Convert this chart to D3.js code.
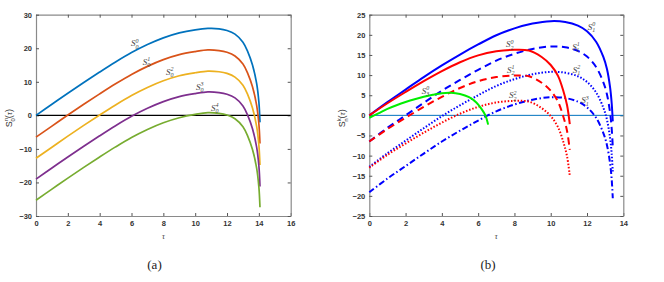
<!DOCTYPE html>
<html>
<head>
<meta charset="utf-8">
<script src="https://cdn.jsdelivr.net/npm/d3@7"></script>
<style>
  body { margin: 0; background: #fff; }
  svg { display: block; }
  .tick text { font-family: 'Liberation Sans', Arial, sans-serif; font-size: 7.5px; font-weight: bold; fill: #333; }
</style>
</head>
<body>
<div id="chart"></div>
<script>
'use strict'

// ---- panel (a): S_0^n(tau), n = 0..4 ----
const tauA = [0, 1, 2, 3, 4, 5, 6, 7, 8, 9, 10, 10.8, 11.5, 12, 12.5, 13, 13.3, 13.6, 13.86, 14.0, 14.07]
const s00 = [0, 3.3, 6.6, 9.8, 12.9, 15.9, 18.7, 21.1, 23.1, 24.6, 25.5, 25.9, 25.8, 25.3, 24.2, 21.8, 19, 15, 9.5, 4, -2.1]
const s01 = [-6.5, -3.2, 0.1, 3.3, 6.4, 9.4, 12.2, 14.6, 16.6, 18.1, 19.0, 19.5, 19.3, 18.8, 17.7, 15.3, 12.5, 8.5, 3, -2.5, -8.4]
const s02 = [-12.8, -9.5, -6.2, -3, 0.1, 3.1, 5.9, 8.3, 10.3, 11.8, 12.7, 13.2, 13, 12.5, 11.4, 9, 6.2, 2.2, -3.3, -8.8, -14.8]
const s03 = [-19, -15.7, -12.4, -9.2, -6.1, -3.1, -0.3, 2.1, 4.1, 5.6, 6.5, 7, 6.8, 6.3, 5.2, 2.8, 0, -4, -9.5, -15, -21.2]
const s04 = [-25.3, -22, -18.7, -15.5, -12.4, -9.4, -6.6, -4.2, -2.2, -0.7, 0.3, 0.8, 0.6, 0.1, -1, -3.4, -6.2, -10.2, -15.7, -21.3, -27.4]
const xTicksA = [0, 2, 4, 6, 8, 10, 12, 14, 16]
const yTicksA = [-30, -20, -10, 0, 10, 20, 30]

// ---- panel (b): S_n^k(tau) ----
const tauB = [0, 1, 2, 3, 4, 5, 6, 7, 8, 9, 10, 10.8, 11.5, 12, 12.5, 12.9, 13.1, 13.27, 13.36, 13.42]
const s10 = [0, 3.3, 6.4, 9.5, 12.4, 15.1, 17.6, 19.9, 21.6, 22.8, 23.4, 23.2, 22.3, 20.9, 18.3, 14.5, 11.5, 7, 3, -1.5]
const s11 = [-6.5, -3.1, 0, 3.1, 6.1, 8.8, 11.3, 13.6, 15.3, 16.5, 17.1, 16.9, 16, 14.6, 12, 8.2, 5.2, 0.7, -3.3, -7.8]
const s12 = [-12.8, -9.4, -6.3, -3.2, -0.2, 2.5, 5, 7.3, 9, 10.2, 10.8, 10.6, 9.7, 8.3, 5.7, 1.9, -1.1, -5.6, -9.6, -14.1]
const s13 = [-19.1, -15.7, -12.6, -9.5, -6.5, -3.8, -1.3, 1, 2.7, 3.9, 4.5, 4.3, 3.4, 2, -0.6, -4.4, -7.4, -11.9, -15.9, -20.6]
const tauR = [0, 1, 2, 3, 4, 5, 6, 7, 8, 8.8, 9.5, 10, 10.4, 10.7, 10.9, 11.05]
const s20 = [0, 3.0, 5.8, 8.5, 11, 13.2, 14.9, 15.9, 16.3, 16.1, 14.5, 12.5, 9.8, 6, 2.5, -2.2]
const s21 = [-6.5, -3.4, -0.6, 2.1, 4.6, 6.8, 8.5, 9.5, 9.9, 9.7, 8.1, 6.1, 3.4, -0.4, -3.9, -8.6]
const s22 = [-13, -9.8, -7, -4.3, -1.8, 0.4, 2.1, 3.2, 3.6, 3.4, 1.8, -0.2, -2.9, -6.7, -10.2, -15]
const tauG = [0, 0.5, 1, 1.5, 2, 2.5, 3, 3.5, 4, 4.5, 5, 5.5, 5.9, 6.2, 6.4, 6.55]
const s30 = [-0.6, 0.5, 1.6, 2.5, 3.3, 4, 4.6, 5.1, 5.5, 5.6, 5.3, 4.5, 3.2, 1.5, 0, -2.3]
const xTicksB = [0, 2, 4, 6, 8, 10, 12, 14]
const yTicksB = [-25, -20, -15, -10, -5, 0, 5, 10, 15, 20, 25]

// label anchors (tau, value) and their sub/superscripts
const labelsA = [
  { sub: '0', sup: '0', at: [6.22, 21.5] },
  { sub: '0', sup: '1', at: [6.95, 16] },
  { sub: '0', sup: '2', at: [8.42, 13] },
  { sub: '0', sup: '3', at: [10.3, 8.5] },
  { sub: '0', sup: '4', at: [11.24, 2.2] }
]
const labelsB = [
  { sub: '1', sup: '0', at: [12.26, 22] },
  { sub: '1', sup: '1', at: [11.4, 17] },
  { sub: '1', sup: '2', at: [11.43, 11.3] },
  { sub: '1', sup: '3', at: [11.9, 3.8] },
  { sub: '2', sup: '0', at: [7.76, 17.6] },
  { sub: '2', sup: '1', at: [7.81, 11.3] },
  { sub: '2', sup: '2', at: [7.92, 5] },
  { sub: '3', sup: '0', at: [3.11, 6.1] }
]

const W = 664, H = 282
const svg = d3.select('#chart').append('svg')
  .attr('width', W).attr('height', H)

// draws one framed MATLAB-style panel
function drawPanel(p) {
  const x = d3.scaleLinear().domain(p.xDomain).range([p.left, p.right])
  const y = d3.scaleLinear().domain(p.yDomain).range([p.bottom, p.top])
  const g = svg.append('g')

  // axes with inward ticks on all four sides
  const axes = [
    [d3.axisBottom(x).tickValues(p.xTicks).tickPadding(5), `translate(0,${p.bottom})`],
    [d3.axisTop(x).tickValues(p.xTicks).tickFormat(''), `translate(0,${p.top})`],
    [d3.axisLeft(y).tickValues(p.yTicks).tickPadding(4), `translate(${p.left},0)`],
    [d3.axisRight(y).tickValues(p.yTicks).tickFormat(''), `translate(${p.right},0)`]
  ]
  axes.forEach(([ax, tr]) => {
    const a = g.append('g').attr('transform', tr)
      .call(ax.tickSizeInner(-3).tickSizeOuter(0))
    a.select('.domain').attr('stroke', '#8a8a8a').attr('stroke-width', 1.2)
    a.selectAll('.tick line').attr('stroke', '#555')
  })

  // zero reference line
  g.append('line')
    .attr('x1', p.left).attr('x2', p.right)
    .attr('y1', y(0)).attr('y2', y(0))
    .attr('stroke', p.zeroColor).attr('stroke-width', p.zeroWidth)

  const line = d3.line()
    .x(d => x(d[0]))
    .y(d => y(d[1]))
    .curve(d3.curveCatmullRom.alpha(0.5))

  p.series.forEach(s => {
    g.append('path')
      .datum(d3.zip(s.tau, s.values))
      .attr('fill', 'none')
      .attr('stroke', s.color)
      .attr('stroke-width', p.lineWidth)
      .attr('stroke-dasharray', s.dash || null)
      .attr('d', line)
  })

  // curve labels S_sub^sup
  p.labels.forEach(l => {
    const t = g.append('text')
      .attr('x', x(l.at[0]) - 4).attr('y', y(l.at[1]) + 3)
      .attr('font-family', 'Liberation Serif, serif')
      .attr('font-style', 'italic')
      .attr('font-size', 9)
      .attr('fill', '#444')
    t.append('tspan').text('S')
    t.append('tspan').attr('font-size', 6).attr('dy', -3.5).text(l.sup)
    t.append('tspan').attr('font-size', 6).attr('dx', -3).attr('dy', 6).text(l.sub)
  })

  // x label
  g.append('text')
    .attr('x', (p.left + p.right) / 2).attr('y', 239)
    .attr('text-anchor', 'middle')
    .attr('font-family', 'Liberation Serif, serif')
    .attr('font-style', 'italic').attr('font-size', 8).attr('fill', '#444')
    .text('τ')

  // y label, rotated
  const yl = g.append('text')
    .attr('transform', `translate(${p.yLabelX},${y(0) + 12}) rotate(-90)`)
    .attr('font-family', 'Liberation Sans, Arial, sans-serif')
    .attr('font-size', 9).attr('fill', '#333')
  yl.append('tspan').text('S')
  yl.append('tspan').attr('font-size', 6).attr('dy', -4).text(p.yLabelSup)
  yl.append('tspan').attr('font-size', 6).attr('dx', -3.5).attr('dy', 7).text(p.yLabelSub)
  yl.append('tspan').attr('dy', -3).text('(')
  yl.append('tspan').attr('font-family', 'Liberation Serif, serif').attr('font-style', 'italic').text('τ')
  yl.append('tspan').text(')')

  // caption
  g.append('text')
    .attr('x', p.captionX).attr('y', 269)
    .attr('text-anchor', 'middle')
    .attr('font-family', 'Liberation Serif, serif')
    .attr('font-size', 13).attr('fill', '#222')
    .text(p.caption)
}

drawPanel({
  left: 36, right: 290.7, top: 14.7, bottom: 216,
  xDomain: [0, 16], yDomain: [-30, 30],
  xTicks: xTicksA, yTicks: yTicksA,
  zeroColor: '#000', zeroWidth: 1.2, lineWidth: 1.7,
  series: [
    { tau: tauA, values: s00, color: '#0072BD' },
    { tau: tauA, values: s01, color: '#D95319' },
    { tau: tauA, values: s02, color: '#EDB120' },
    { tau: tauA, values: s03, color: '#7E2F8E' },
    { tau: tauA, values: s04, color: '#77AC30' }
  ],
  labels: labelsA,
  yLabelX: 12, yLabelSup: 'n', yLabelSub: '0',
  caption: '(a)', captionX: 154.5
})

drawPanel({
  left: 369.3, right: 623.3, top: 14.7, bottom: 216,
  xDomain: [0, 14], yDomain: [-25, 25],
  xTicks: xTicksB, yTicks: yTicksB,
  zeroColor: '#0072BD', zeroWidth: 1, lineWidth: 2,
  series: [
    { tau: tauB, values: s10, color: '#0000FF' },
    { tau: tauB, values: s11, color: '#0000FF', dash: '7,4.5' },
    { tau: tauB, values: s12, color: '#0000FF', dash: '1.5,1.8' },
    { tau: tauB, values: s13, color: '#0000FF', dash: '6,2.5,1.5,2.5' },
    { tau: tauR, values: s20, color: '#FF0000' },
    { tau: tauR, values: s21, color: '#FF0000', dash: '7,4.5' },
    { tau: tauR, values: s22, color: '#FF0000', dash: '1.5,1.8' },
    { tau: tauG, values: s30, color: '#00EE00' }
  ],
  labels: labelsB,
  yLabelX: 345, yLabelSup: 'k', yLabelSub: 'n',
  caption: '(b)', captionX: 488
})
</script>
</body>
</html>
